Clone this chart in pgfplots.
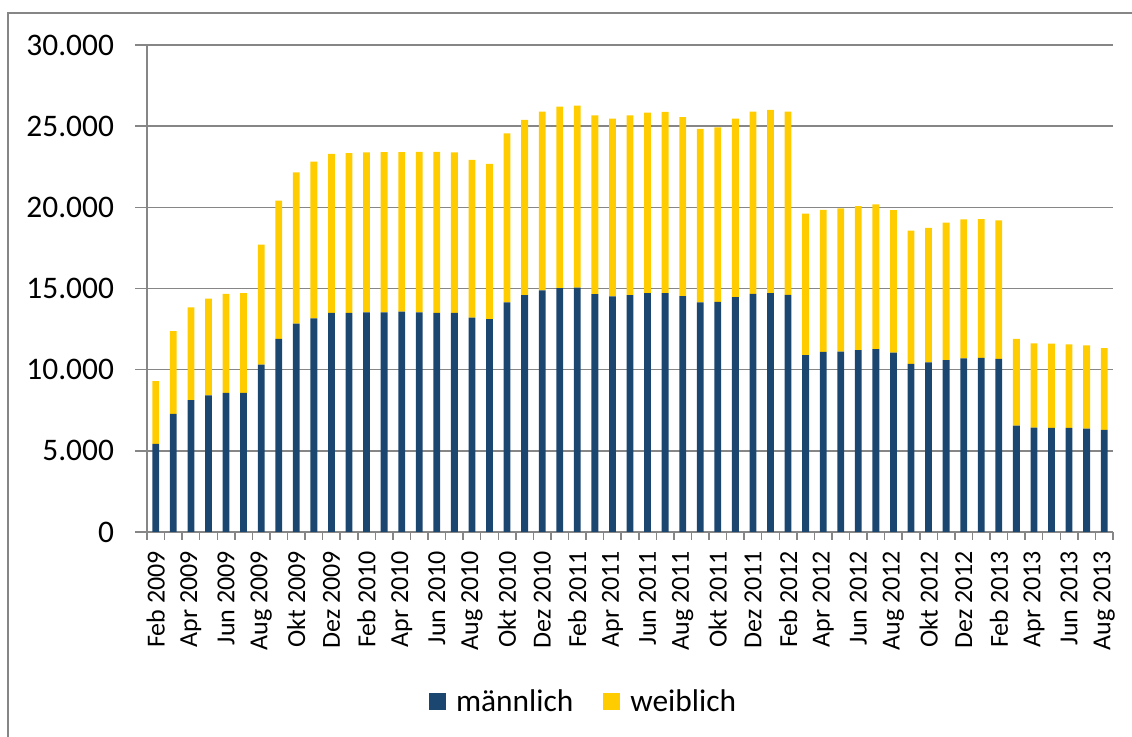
\documentclass[border=0pt]{standalone}
\usepackage{pgfplots}
\pgfplotsset{compat=1.18}
\usepackage{pgfplotstable}
\usepackage{fontspec}
\setmainfont{Carlito}
\definecolor{mblue}{RGB}{27,70,112}
\definecolor{wyellow}{RGB}{255,204,0}
\definecolor{grd}{RGB}{134,134,134}

\pgfplotstableread{
x m w
0 5430 3870
1 7280 5100
2 8120 5710
3 8420 5950
4 8570 6100
5 8570 6140
6 10310 7400
7 11890 8520
8 12830 9320
9 13160 9650
10 13500 9800
11 13500 9840
12 13530 9850
13 13530 9870
14 13570 9830
15 13530 9890
16 13500 9920
17 13500 9880
18 13210 9720
19 13120 9560
20 14140 10410
21 14590 10800
22 14880 11020
23 15020 11190
24 15060 11210
25 14650 11010
26 14510 10960
27 14590 11070
28 14710 11130
29 14710 11170
30 14530 11020
31 14140 10700
32 14180 10740
33 14470 11000
34 14670 11230
35 14710 11290
36 14610 11290
37 10900 8710
38 11090 8750
39 11110 8830
40 11210 8870
41 11270 8910
42 11050 8770
43 10350 8220
44 10450 8280
45 10590 8470
46 10700 8560
47 10720 8560
48 10660 8540
49 6560 5330
50 6430 5190
51 6410 5190
52 6410 5150
53 6370 5130
54 6290 5040
}\data

\begin{document}
\begin{tikzpicture}
\useasboundingbox (-73.5pt,-102.5pt) rectangle (492.5pt,266pt);
\draw[grd, line width=0.75pt] (-69.5pt,-120pt) -- (-69.5pt,259.5pt) -- (510pt,259.5pt);
\begin{axis}[at={(0pt,0pt)}, anchor=south west,
  width=483pt, height=243.5pt, scale only axis,
  ybar stacked, bar width=3.4pt,
  xmin=-0.5, xmax=54.5, ymin=0, ymax=30000,
  axis x line*=bottom, axis y line*=left,
  axis line style={grd, line width=0.75pt, -},
  ymajorgrids, grid style={grd, line width=0.75pt},
  tick align=outside,
  major tick length=6pt, minor tick length=4pt,
  ytick={0,5000,...,30000},
  scaled y ticks=false,
  yticklabel style={xshift=-7pt, font=\fontsize{15.7}{18}\selectfont, /pgf/number format/1000 sep={.}, /pgf/number format/assume math mode=true},
  xtick={0,2,...,54},
  xticklabels={Feb 2009,Apr 2009,Jun 2009,Aug 2009,Okt 2009,Dez 2009,
    Feb 2010,Apr 2010,Jun 2010,Aug 2010,Okt 2010,Dez 2010,
    Feb 2011,Apr 2011,Jun 2011,Aug 2011,Okt 2011,Dez 2011,
    Feb 2012,Apr 2012,Jun 2012,Aug 2012,Okt 2012,Dez 2012,
    Feb 2013,Apr 2013,Jun 2013,Aug 2013},
  minor xtick={-0.5,0.5,...,54.5},
  every major x tick/.append style={draw=none},
  every minor x tick/.append style={grd, line width=0.75pt},
  every major y tick/.append style={grd, line width=0.75pt},
  xticklabel style={rotate=90, anchor=east, font=\fontsize{13}{15}\selectfont},
  legend style={at={(0.453,-0.349)}, anchor=center, draw=none,
    font=\fontsize{15.7}{18}\selectfont,
    /tikz/every odd column/.append style={column sep=3pt},
    /tikz/every even column/.append style={column sep=13pt}},
  legend columns=2,
  every axis plot post/.append style={legend image code/.code={\fill[##1] (0pt,-4.25pt) rectangle (8.5pt,4.25pt);}},
]
\addplot[fill=mblue, draw=none] table[x=x,y=m]{\data};
\addplot[fill=wyellow, draw=none] table[x=x,y=w]{\data};
\legend{männlich, weiblich}
\end{axis}
\end{tikzpicture}
\end{document}
